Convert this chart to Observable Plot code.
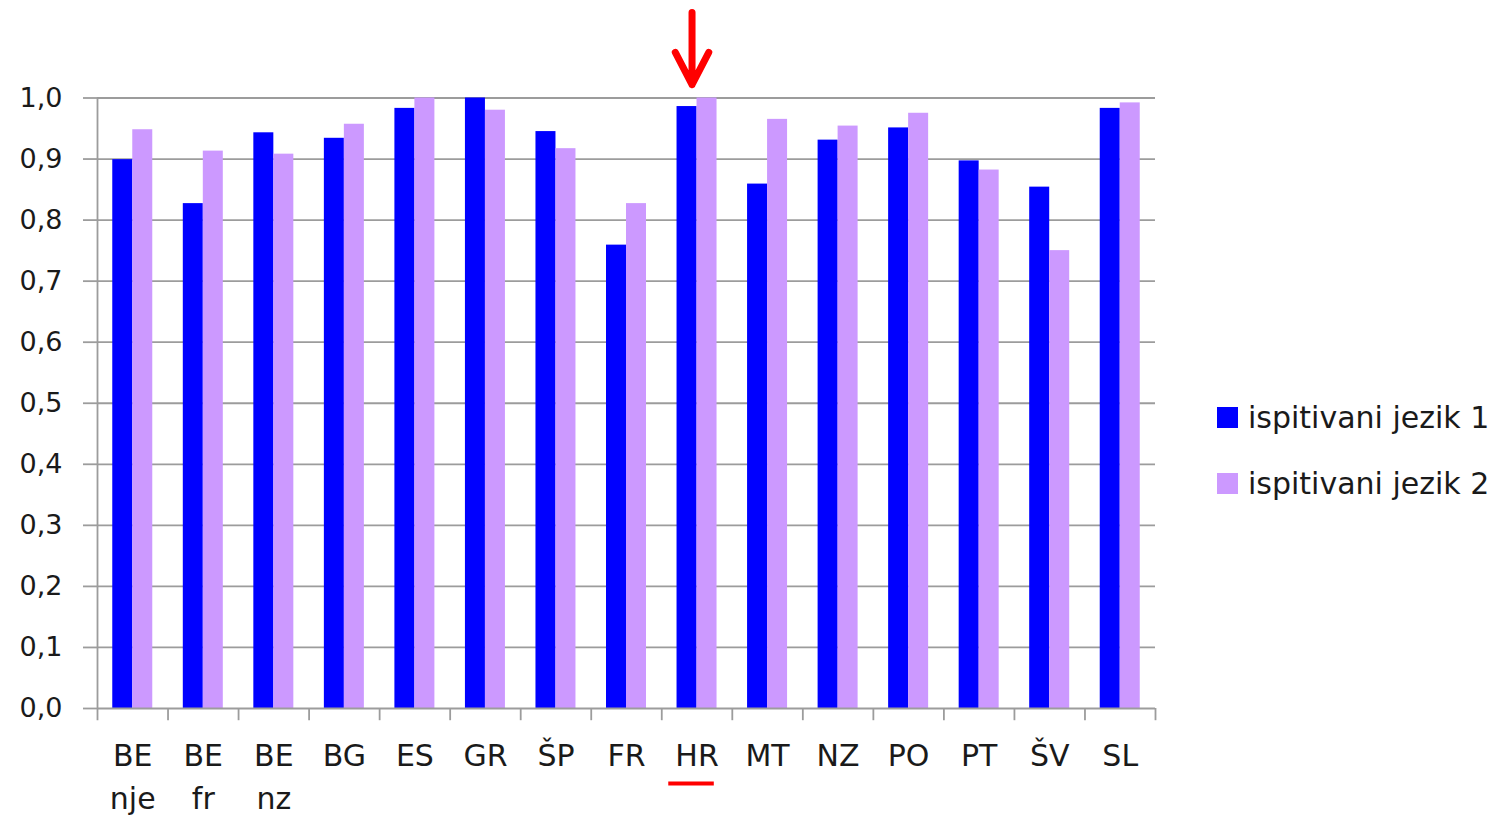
<!DOCTYPE html>
<html>
<head>
<meta charset="utf-8">
<script src="https://cdn.jsdelivr.net/npm/d3@7"></script>
<script src="https://cdn.jsdelivr.net/npm/@observablehq/plot@0.6"></script>
<style>
  body { margin: 0; background: #fff; }
  #wrap { position: relative; width: 1497px; height: 816px; overflow: hidden; font-family: "DejaVu Sans", sans-serif; }
  .sw { position: absolute; width: 21px; height: 21px; }
  .lt { position: absolute; font-size: 30px; line-height: 30px; color: #1a1a1a; white-space: nowrap; }
</style>
</head>
<body>
<div id="wrap"></div>
<script>
// ---- data ----
const categories = ["BE nje", "BE fr", "BE nz", "BG", "ES", "GR", "ŠP", "FR", "HR", "MT", "NZ", "PO", "PT", "ŠV", "SL"];
const jezik1 = [0.899, 0.827, 0.943, 0.934, 0.983, 1.000, 0.945, 0.759, 0.986, 0.859, 0.931, 0.951, 0.897, 0.854, 0.983];
const jezik2 = [0.948, 0.913, 0.908, 0.957, 1.000, 0.980, 0.917, 0.827, 1.000, 0.965, 0.954, 0.975, 0.882, 0.750, 0.992];
const seriesNames = ["ispitivani jezik 1", "ispitivani jezik 2"];
const seriesColors = ["#0000ff", "#cc99ff"];
const yTicks = [0, 0.1, 0.2, 0.3, 0.4, 0.5, 0.6, 0.7, 0.8, 0.9, 1.0];
const highlight = "HR";

// ---- layout ----
const W = 1497, H = 816;
const mL = 97, mR = 342, mT = 97.5, mB = 108;
const bw = (W - mL - mR) / categories.length;
const barW = 20;
const gridColor = "#9c9c9c";
const textColor = "#1a1a1a";

const rows1 = categories.map((c, i) => ({cat: c, series: seriesNames[0], value: jezik1[i]}));
const rows2 = categories.map((c, i) => ({cat: c, series: seriesNames[1], value: jezik2[i]}));

const chart = Plot.plot({
  width: W, height: H,
  marginLeft: mL, marginRight: mR, marginTop: mT, marginBottom: mB,
  style: {fontFamily: "DejaVu Sans", background: "transparent", overflow: "visible"},
  x: {domain: categories, padding: 0, round: false, axis: null},
  y: {domain: [0, 1], label: null},
  marks: [
    Plot.ruleY(yTicks.slice(1), {stroke: gridColor, strokeWidth: 1.8}),
    Plot.barY(rows1, {x: "cat", y: "value", fill: seriesColors[0], insetLeft: bw / 2 - barW, insetRight: bw / 2}),
    Plot.barY(rows2, {x: "cat", y: "value", fill: seriesColors[1], insetLeft: bw / 2, insetRight: bw / 2 - barW}),
    Plot.ruleY([0], {stroke: gridColor, strokeWidth: 1.8}),
    Plot.ruleX([categories[0]], {x: d => d, dx: -bw / 2, y1: -0.02, y2: 1, stroke: gridColor, strokeWidth: 1.8}),
    Plot.ruleX(categories.slice(1), {x: d => d, dx: -bw / 2, y1: -0.02, y2: 0, stroke: gridColor, strokeWidth: 1.8}),
    Plot.ruleX(categories.slice(-1), {x: d => d, dx: bw / 2, y1: -0.02, y2: 0, stroke: gridColor, strokeWidth: 1.8}),
    Plot.axisY({
      ticks: yTicks, label: null,
      tickFormat: d => d.toFixed(1).replace(".", ","),
      tickSize: 14, tickPadding: 21, fontSize: 27,
      stroke: gridColor, strokeWidth: 1.8, fill: textColor
    }),
    Plot.text(categories, {
      x: d => d, y: 0, dy: 27, lineAnchor: "top", lineHeight: 1.43,
      text: d => d.replace(" ", "\n"), fontSize: 30, fill: textColor
    }),
    Plot.tickY([highlight], {x: d => d, y: -0.1229, stroke: "#ff0000", strokeWidth: 4, insetLeft: 7, insetRight: 18}),
    Plot.arrow([highlight], {
      x1: d => d, x2: d => d, y1: 1.2, y2: 1.022, dx: -5,
      stroke: "#ff0000", strokeWidth: 7, headLength: 8, headAngle: 55,
      insetStart: 36.6, strokeLinecap: "round", strokeLinejoin: "round"
    })
  ]
});

const wrap = document.getElementById("wrap");
wrap.appendChild(chart);

// legend
const legTops = [407, 473];
seriesNames.forEach((name, i) => {
  const sw = document.createElement("div");
  sw.className = "sw";
  sw.style.left = "1217px";
  sw.style.top = legTops[i] + "px";
  sw.style.background = seriesColors[i];
  wrap.appendChild(sw);
  const t = document.createElement("div");
  t.className = "lt";
  t.style.left = "1248px";
  t.style.top = (legTops[i] + 21 - 25.4) + "px";
  t.textContent = name;
  wrap.appendChild(t);
});
</script>
</body>
</html>
